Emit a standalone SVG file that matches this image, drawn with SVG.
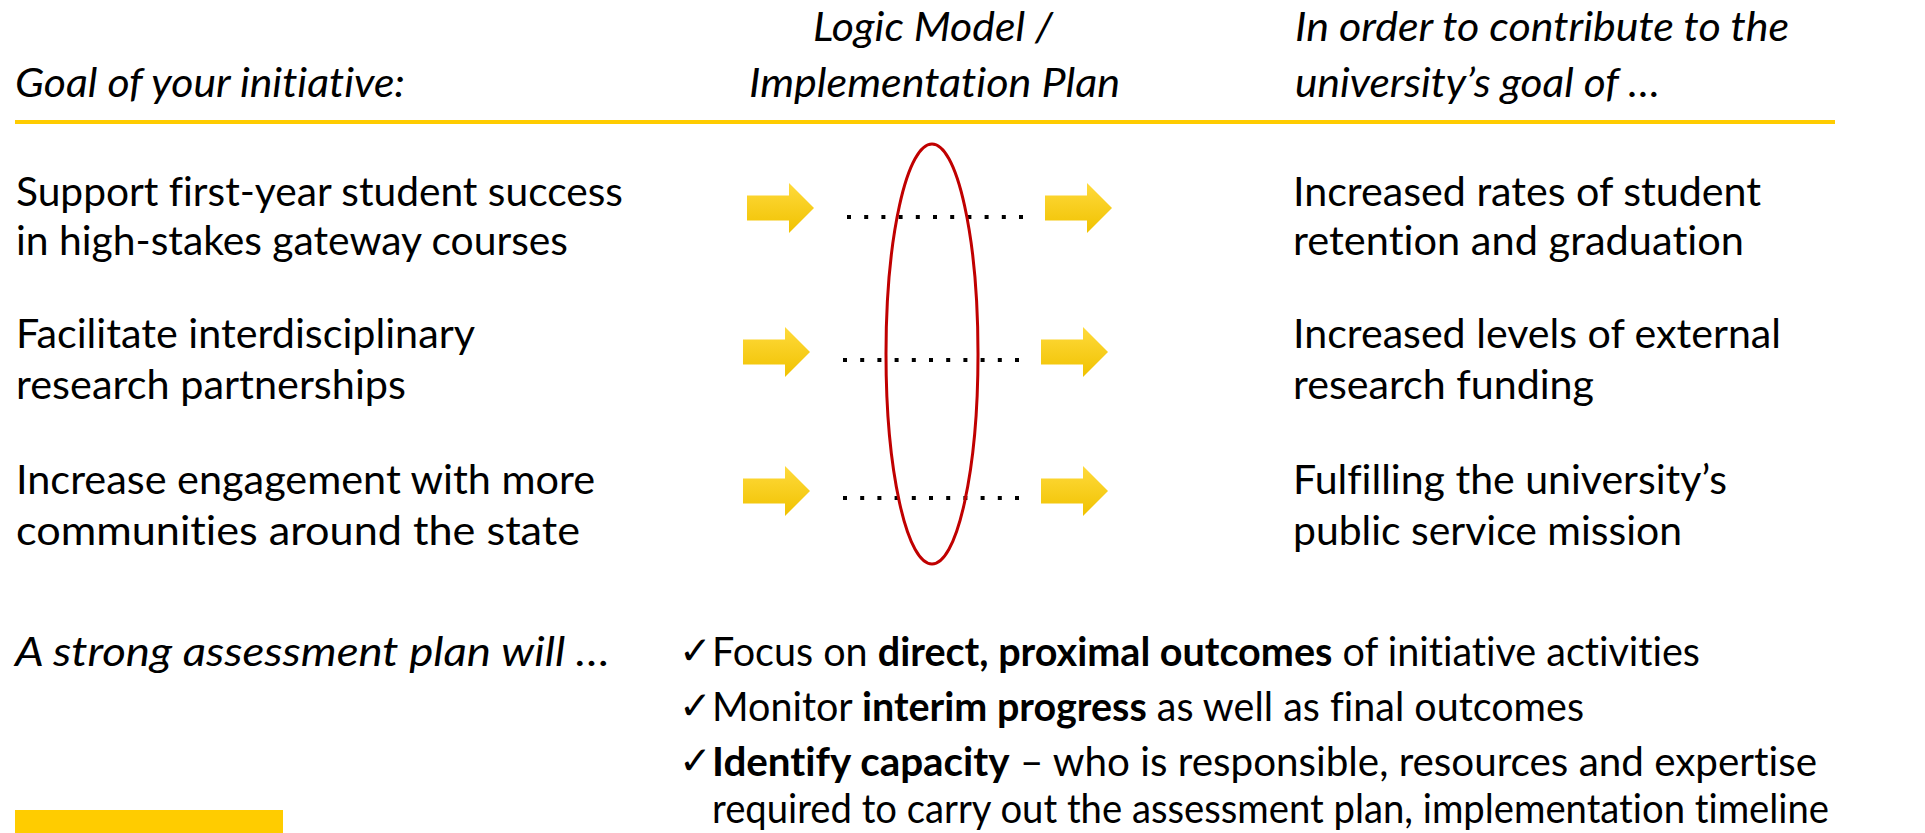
<svg xmlns="http://www.w3.org/2000/svg" width="1925" height="833" viewBox="0 0 1925 833">
<style>
text{font-family:Lato,"Open Sans","Liberation Sans",sans-serif;fill:#000;font-variant-ligatures:none;}
.hd{font-size:41px;font-style:italic;}
.bd{font-size:41px;}
.bt{font-size:40px;}
.b{font-weight:bold;}
.ck{font-family:"DejaVu Sans",sans-serif;font-size:39px;}
.dots{stroke:#000;stroke-width:4;stroke-dasharray:4 13.2;fill:none;}
.arr{fill:url(#ag);}
</style>
<defs>
<linearGradient id="ag" x1="0" y1="0" x2="0" y2="1">
<stop offset="0" stop-color="#FFDA3C"/>
<stop offset="1" stop-color="#F0C200"/>
</linearGradient>
<path id="arrow" d="M0,-12.5 H42 V-25 L67,0 L42,25 V12.5 H0 Z"/>
</defs>
<rect width="1925" height="833" fill="#fff"/>
<g id="header">
<text class="hd" x="15" y="97" textLength="390" lengthAdjust="spacingAndGlyphs">Goal of your initiative:</text>
<text class="hd" x="813" y="41" textLength="240" lengthAdjust="spacingAndGlyphs">Logic Model /</text>
<text class="hd" x="749" y="97" textLength="371" lengthAdjust="spacingAndGlyphs">Implementation Plan</text>
<text class="hd" x="1295" y="41" textLength="494" lengthAdjust="spacingAndGlyphs">In order to contribute to the</text>
<text class="hd" x="1295" y="97" textLength="365" lengthAdjust="spacingAndGlyphs">university’s goal of …</text>
<rect x="15" y="120" width="1820" height="4" fill="#FFCC00"/>
</g>
<g id="goal1">
<text class="bd" x="16" y="206" textLength="607" lengthAdjust="spacingAndGlyphs">Support first-year student success</text>
<text class="bd" x="16" y="255" textLength="552" lengthAdjust="spacingAndGlyphs">in high-stakes gateway courses</text>
</g>
<g id="goal2">
<text class="bd" x="16" y="348" textLength="459" lengthAdjust="spacingAndGlyphs">Facilitate interdisciplinary</text>
<text class="bd" x="16" y="399" textLength="390" lengthAdjust="spacingAndGlyphs">research partnerships</text>
</g>
<g id="goal3">
<text class="bd" x="16" y="494" textLength="579" lengthAdjust="spacingAndGlyphs">Increase engagement with more</text>
<text class="bd" x="16" y="545" textLength="564" lengthAdjust="spacingAndGlyphs">communities around the state</text>
</g>
<g id="uni1">
<text class="bd" x="1293" y="206" textLength="468" lengthAdjust="spacingAndGlyphs">Increased rates of student</text>
<text class="bd" x="1293" y="255" textLength="451" lengthAdjust="spacingAndGlyphs">retention and graduation</text>
</g>
<g id="uni2">
<text class="bd" x="1293" y="348" textLength="488" lengthAdjust="spacingAndGlyphs">Increased levels of external</text>
<text class="bd" x="1293" y="399" textLength="301" lengthAdjust="spacingAndGlyphs">research funding</text>
</g>
<g id="uni3">
<text class="bd" x="1293" y="494" textLength="434" lengthAdjust="spacingAndGlyphs">Fulfilling the university’s</text>
<text class="bd" x="1293" y="545" textLength="389" lengthAdjust="spacingAndGlyphs">public service mission</text>
</g>
<g id="connectors">
<use href="#arrow" class="arr" x="747" y="208"/>
<use href="#arrow" class="arr" x="1045" y="208"/>
<line class="dots" x1="847" y1="217" x2="1025" y2="217"/>
<use href="#arrow" class="arr" x="743" y="352"/>
<use href="#arrow" class="arr" x="1041" y="352"/>
<line class="dots" x1="843" y1="360" x2="1021" y2="360"/>
<use href="#arrow" class="arr" x="743" y="491"/>
<use href="#arrow" class="arr" x="1041" y="491"/>
<line class="dots" x1="843" y1="498" x2="1021" y2="498"/>
</g>
<g id="highlight">
<ellipse cx="932" cy="354" rx="46" ry="210" fill="none" stroke="#C00000" stroke-width="3"/>
</g>
<g id="assessment">
<text class="hd" x="15" y="666" textLength="595" lengthAdjust="spacingAndGlyphs">A strong assessment plan will …</text>
<text class="ck" x="679" y="664">✓</text>
<text class="bt" x="712" y="666" textLength="988" lengthAdjust="spacingAndGlyphs">Focus on <tspan class="b">direct, proximal outcomes</tspan> of initiative activities</text>
<text class="ck" x="679" y="719">✓</text>
<text class="bt" x="712" y="721" textLength="872" lengthAdjust="spacingAndGlyphs">Monitor <tspan class="b">interim progress</tspan> as well as final outcomes</text>
<text class="ck" x="679" y="774">✓</text>
<text class="bt" x="712" y="776" textLength="1105" lengthAdjust="spacingAndGlyphs"><tspan class="b">Identify capacity</tspan> – who is responsible, resources and expertise</text>
<text class="bt" x="712" y="823" textLength="1117" lengthAdjust="spacingAndGlyphs">required to carry out the assessment plan, implementation timeline</text>
</g>
<rect id="footer-bar" x="15" y="810" width="268" height="23" fill="#FFCC00"/>
</svg>
